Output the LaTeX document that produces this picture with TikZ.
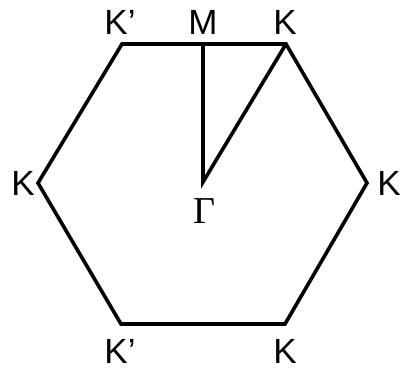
\documentclass[tikz,border=0pt]{standalone}
\usepackage{fontspec}
\setmainfont{Liberation Sans}
\newfontfamily\serifG{Liberation Serif}
\begin{document}
\begin{tikzpicture}[x=1pt,y=-1pt,
  edge/.style={line width=3.6pt,line join=miter,line cap=round},
  lbl/.style={font=\fontsize{35}{35}\selectfont,inner sep=0pt,anchor=center}]
\useasboundingbox (0,0) rectangle (402,369);
\coordinate (v1) at (122,44);
\coordinate (v2) at (286,44);
\coordinate (v3) at (367,183);
\coordinate (v4) at (285,324);
\coordinate (v5) at (121,324);
\coordinate (v6) at (38,183);
\coordinate (m) at (203,44);
\coordinate (g) at (203,182);
\draw[edge] (v1) -- (v2) -- (v3) -- (v4) -- (v5) -- (v6) -- cycle;
\draw[edge] (m) -- (g) -- (v2);
\node[lbl] (lk1) at (120,22) {K’};
\node[lbl] (lm) at (203,22) {M};
\node[lbl] (lk2) at (285,22) {K};
\node[lbl] (lk3) at (23,183) {K};
\node[lbl] (lk4) at (389,183) {K};
\node[lbl] (lg) at (204,211) {\serifG\fontsize{38}{38}\selectfont Γ};
\node[lbl] (lk5) at (120,351) {K’};
\node[lbl] (lk6) at (285,351) {K};
\end{tikzpicture}
\end{document}
